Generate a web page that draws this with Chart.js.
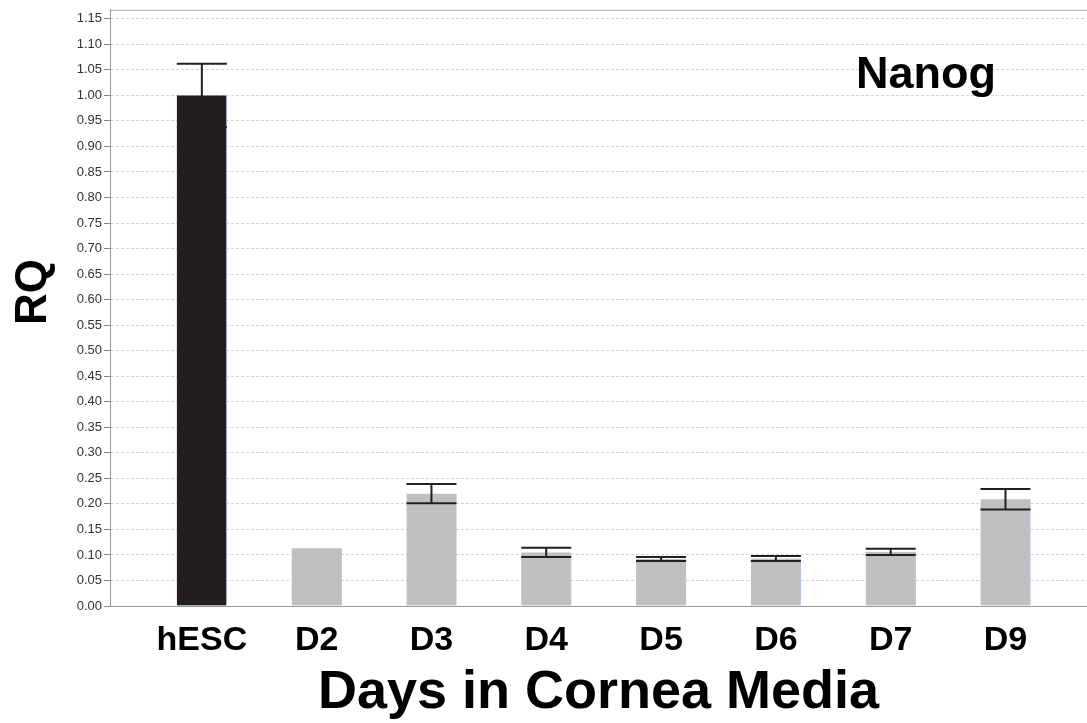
<!DOCTYPE html>
<html>
<head>
<meta charset="utf-8">
<script src="https://cdn.jsdelivr.net/npm/chart.js@4/dist/chart.umd.min.js"></script>
<style>
  html, body { margin: 0; padding: 0; background: #fff; }
  #wrap { width: 1087px; height: 723px; position: relative; }
</style>
</head>
<body>
<div id="wrap"><canvas id="c"></canvas></div>
<script>
// Nanog relative quantification by day in cornea media
const categories = ['hESC', 'D2', 'D3', 'D4', 'D5', 'D6', 'D7', 'D9'];
const rqValues   = [1.000, 0.113, 0.220, 0.105, 0.092, 0.093, 0.106, 0.209];
const rqErrors   = [0.062, 0.000, 0.019, 0.009, 0.004, 0.005, 0.006, 0.020];
const barColors  = ['#231f20', '#c0c0c0', '#c0c0c0', '#c0c0c0', '#c0c0c0', '#c0c0c0', '#c0c0c0', '#c0c0c0'];
const geneName   = 'Nanog';
const yAxisTitle = 'RQ';
const xAxisTitle = 'Days in Cornea Media';

const FONT = "'Liberation Sans', Arial, sans-serif";

// error whiskers with caps on both ends
const errorBars = {
  id: 'errorBars',
  afterDatasetsDraw(chart) {
    const { ctx, scales: { x, y } } = chart;
    const half = 25;
    ctx.save();
    ctx.strokeStyle = '#231f20';
    ctx.lineWidth = 2;
    rqValues.forEach((v, i) => {
      const e = rqErrors[i];
      if (!e) return;
      const px = x.getPixelForValue(i);
      const hi = y.getPixelForValue(v + e);
      const lo = y.getPixelForValue(v - e);
      ctx.beginPath();
      ctx.moveTo(px, hi); ctx.lineTo(px, lo);
      ctx.moveTo(px - half, hi); ctx.lineTo(px + half, hi);
      ctx.moveTo(px - half, lo); ctx.lineTo(px + half, lo);
      ctx.stroke();
    });
    ctx.restore();
  }
};

// frame top line, rotated y title and gene label
const decorations = {
  id: 'decorations',
  afterDraw(chart) {
    const { ctx, chartArea: a } = chart;
    ctx.save();
    ctx.strokeStyle = '#aaa';
    ctx.lineWidth = 1;
    ctx.beginPath();
    ctx.moveTo(a.left, a.top + 0.5);
    ctx.lineTo(a.right, a.top + 0.5);
    ctx.stroke();

    ctx.fillStyle = '#000';
    ctx.font = 'bold 45px ' + FONT;
    ctx.textAlign = 'left';
    ctx.textBaseline = 'alphabetic';
    ctx.fillText(geneName, 856, 88);

    ctx.translate(34, 292);
    ctx.rotate(-Math.PI / 2);
    ctx.font = 'bold 44px ' + FONT;
    ctx.textAlign = 'center';
    ctx.textBaseline = 'middle';
    ctx.fillText(yAxisTitle, 0, 0);
    ctx.restore();
  }
};

new Chart(document.getElementById('c'), {
  type: 'bar',
  data: {
    datasets: [{
      data: categories.map((c, i) => ({ x: i, y: rqValues[i] })),
      backgroundColor: barColors,
      borderColor: '#b5c9e0',
      borderWidth: { left: 0, right: 1, top: 0, bottom: 0 },
      borderSkipped: false,
      barThickness: 50
    }]
  },
  options: {
    responsive: true,
    maintainAspectRatio: false,
    animation: false,
    layout: { padding: { top: 9, left: 0, right: 0, bottom: 0 } },
    plugins: { legend: { display: false }, tooltip: { enabled: false } },
    scales: {
      x: {
        type: 'linear',
        offset: false,
        min: -0.8,
        max: 7.71,
        grid: { display: false, drawTicks: false },
        border: { display: true, color: '#999', width: 1 },
        afterBuildTicks: s => { s.ticks = categories.map((c, i) => ({ value: i })); },
        afterFit: s => { s.height = 117; },
        ticks: {
          autoSkip: false,
          maxRotation: 0,
          padding: 14,
          color: '#000',
          font: { family: FONT, size: 34, weight: 'bold' },
          callback: v => categories[v]
        },
        title: {
          display: true,
          text: xAxisTitle,
          color: '#000',
          padding: 0,
          font: { family: FONT, size: 54, weight: 'bold', lineHeight: 1.1 }
        }
      },
      y: {
        min: 0,
        max: 1.1676,
        afterFit: s => { s.width = 110; },
        grid: {
          color: '#d4d4d4',
          tickLength: 6,
          tickColor: '#888',
          tickBorderDash: []
        },
        border: { display: true, color: '#999', width: 1, dash: [3, 2] },
        ticks: {
          stepSize: 0.05,
          includeBounds: false,
          padding: 2,
          color: '#333',
          font: { family: FONT, size: 13 },
          callback: v => v.toFixed(2)
        }
      }
    }
  },
  plugins: [errorBars, decorations]
});
</script>
</body>
</html>
